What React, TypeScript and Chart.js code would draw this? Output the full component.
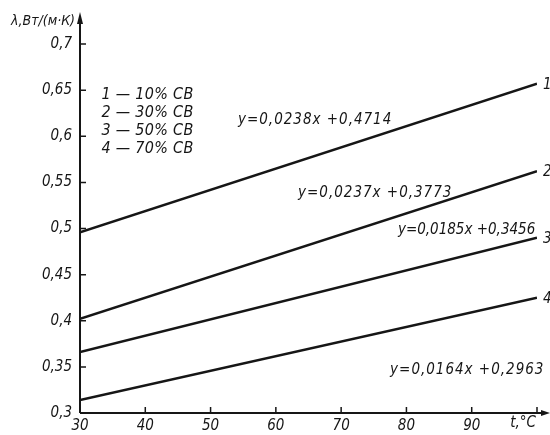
import React, { useEffect, useRef } from "react";
import { Chart, registerables } from "chart.js";

Chart.register(...registerables);

// ---- data ----
const temps = [30, 100];
const line1 = [0.496, 0.657];
const line2 = [0.402, 0.562];
const line3 = [0.366, 0.49];
const line4 = [0.314, 0.425];
const seriesValues = [line1, line2, line3, line4];
const seriesNumbers = ["1", "2", "3", "4"];

const yTicks = [0.3, 0.35, 0.4, 0.45, 0.5, 0.55, 0.6, 0.65, 0.7];
const xTicks = [30, 40, 50, 60, 70, 80, 90, 100];

const yTitle = "λ,Вт/(м·К)";
const xTitle = "t,°C";
const legendLines = ["1 — 10% СВ", "2 — 30% СВ", "3 — 50% СВ", "4 — 70% СВ"];
const legendAnchorX = 33.3;
const legendAnchorY = [0.645, 0.6255, 0.606, 0.5865];

const equations = [
  "y=0,0238x +0,4714",
  "y=0,0237x +0,3773",
  "y=0,0185x +0,3456",
  "y=0,0164x +0,2963",
];
const eqX = [54.2, 63.4, 78.7, 77.5];
const eqY = [0.6178, 0.5386, 0.4985, 0.3466];
const eqSpacing = ["1px", "1px", "0px", "1px"];

const FAMILY = "'DejaVu Sans Condensed', 'DejaVu Sans', sans-serif";
const INK = "#161616";

const decorPlugin = {
  id: "decor",
  afterDraw(chart: any) {
    const ctx = chart.ctx as CanvasRenderingContext2D & { letterSpacing?: string };
    const xs = chart.scales.x;
    const ys = chart.scales.y;
    const left = chart.chartArea.left;
    const bottom = chart.chartArea.bottom;
    const top = chart.chartArea.top;
    const right = chart.chartArea.right;
    ctx.save();
    ctx.strokeStyle = INK;
    ctx.fillStyle = INK;
    ctx.lineWidth = 2;
    // axes
    ctx.beginPath();
    ctx.moveTo(left, bottom);
    ctx.lineTo(left, top - 24);
    ctx.moveTo(left, bottom);
    ctx.lineTo(right + 10, bottom);
    ctx.stroke();
    // arrows
    ctx.beginPath();
    ctx.moveTo(left, top - 32);
    ctx.lineTo(left - 3, top - 20);
    ctx.lineTo(left + 3, top - 20);
    ctx.closePath();
    ctx.fill();
    ctx.beginPath();
    ctx.moveTo(right + 13, bottom);
    ctx.lineTo(right + 4, bottom - 3);
    ctx.lineTo(right + 4, bottom + 3);
    ctx.closePath();
    ctx.fill();
    // inside ticks
    ctx.lineWidth = 1.5;
    ctx.beginPath();
    yTicks.forEach((v) => {
      const py = ys.getPixelForValue(v);
      ctx.moveTo(left, py);
      ctx.lineTo(left + 6, py);
    });
    xTicks.forEach((v) => {
      const px = xs.getPixelForValue(v);
      ctx.moveTo(px, bottom);
      ctx.lineTo(px, bottom - 6);
    });
    ctx.stroke();

    ctx.textBaseline = "middle";
    // y title
    ctx.textAlign = "right";
    ctx.font = `italic 14px ${FAMILY}`;
    ctx.fillText(yTitle, left - 5, top - 23);
    // x title
    ctx.textAlign = "center";
    ctx.font = `italic 15px ${FAMILY}`;
    ctx.fillText(xTitle, right - 14, bottom + 10);

    // legend
    ctx.textAlign = "left";
    ctx.font = `italic 16px ${FAMILY}`;
    ctx.letterSpacing = "0.3px";
    legendLines.forEach((t, i) => {
      ctx.fillText(t, xs.getPixelForValue(legendAnchorX), ys.getPixelForValue(legendAnchorY[i]), 92);
    });
    // equations
    ctx.font = `italic 15px ${FAMILY}`;
    equations.forEach((t, i) => {
      ctx.letterSpacing = eqSpacing[i];
      ctx.fillText(t, xs.getPixelForValue(eqX[i]), ys.getPixelForValue(eqY[i]));
    });
    ctx.letterSpacing = "0px";
    // series numbers at line ends
    ctx.font = `italic 15px ${FAMILY}`;
    seriesValues.forEach((s, i) => {
      const px = xs.getPixelForValue(temps[temps.length - 1]);
      const py = ys.getPixelForValue(s[s.length - 1]);
      ctx.fillText(seriesNumbers[i], px + 6, py + 1);
    });
    ctx.restore();
  },
};

export default function App() {
  const ref = useRef<HTMLCanvasElement | null>(null);
  useEffect(() => {
    if (!ref.current) return;
    const chart = new Chart(ref.current, {
      type: "line",
      data: {
        datasets: seriesValues.map((s, i) => ({
          label: seriesNumbers[i],
          data: temps.map((t, j) => ({ x: t, y: s[j] })),
          borderColor: INK,
          borderWidth: 2.5,
          pointRadius: 0,
          tension: 0,
          fill: false,
        })),
      },
      options: {
        responsive: false,
        animation: false,
        layout: { padding: { top: 44, right: 13, left: 0, bottom: 0 } },
        plugins: { legend: { display: false }, tooltip: { enabled: false } },
        scales: {
          x: {
            type: "linear",
            min: 30,
            max: 100,
            afterBuildTicks: (axis: any) => {
              axis.ticks = xTicks.map((v) => ({ value: v }));
            },
            afterFit: (axis: any) => {
              axis.height = 22;
            },
            grid: { display: false, drawTicks: false },
            border: { display: false },
            ticks: {
              padding: 4,
              color: INK,
              maxRotation: 0,
              autoSkip: false,
              font: { family: FAMILY, style: "italic", size: 15 },
              callback: (v: any) => (v === 100 ? "" : String(v)),
            },
          },
          y: {
            type: "linear",
            min: 0.3,
            max: 0.7,
            afterBuildTicks: (axis: any) => {
              axis.ticks = yTicks.map((v) => ({ value: v }));
            },
            afterFit: (axis: any) => {
              axis.width = 80;
            },
            grid: { display: false, drawTicks: false },
            border: { display: false },
            ticks: {
              padding: 8,
              color: INK,
              autoSkip: false,
              font: { family: FAMILY, style: "italic", size: 15 },
              callback: (v: any) => String(Number(v)).replace(".", ","),
            },
          },
        },
      },
      plugins: [decorPlugin],
    });
    return () => chart.destroy();
  }, []);
  return (
    <div style={{ position: "fixed", left: 0, top: 0, width: 550, height: 435, background: "#fff" }}>
      <canvas ref={ref} width={550} height={435} />
    </div>
  );
}
